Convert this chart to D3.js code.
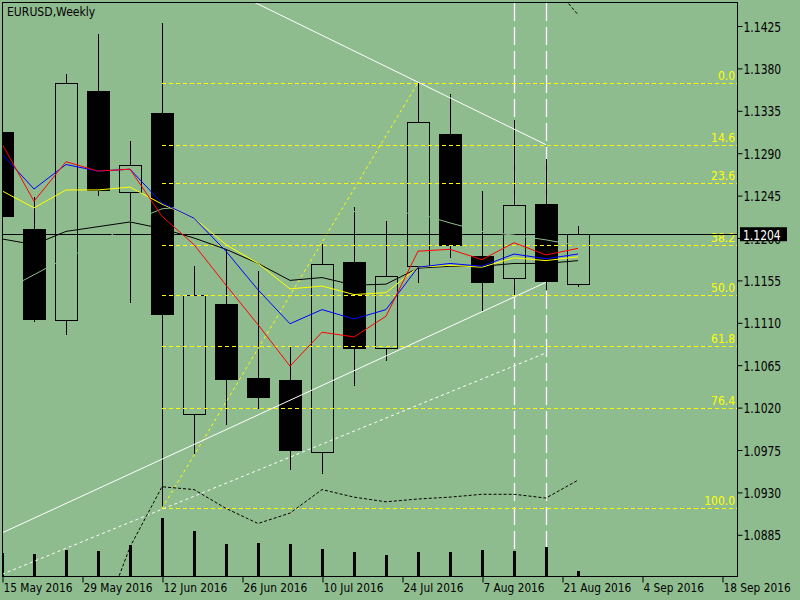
<!DOCTYPE html>
<html>
<head>
<meta charset="utf-8">
<script src="https://cdn.jsdelivr.net/npm/d3@7"></script>
<style>
  body { margin: 0; background: #8fbc8f; }
  svg { display: block; }
  text { font-family: "DejaVu Sans Condensed", "DejaVu Sans", sans-serif; font-stretch: condensed; font-size: 12px; }
</style>
</head>
<body>
<div id="chart"></div>
<script>
// weekly EURUSD bars
const title = "EURUSD,Weekly";
const opens  = [1.1313, 1.1210, 1.1113, 1.1356, 1.1249, 1.1333, 1.1013, 1.1130, 1.1051, 1.1049, 1.0973, 1.1174, 1.1083, 1.1170, 1.1310, 1.1181, 1.1158, 1.1236, 1.1151];
const highs  = [1.1330, 1.1244, 1.1374, 1.1417, 1.1303, 1.1428, 1.1170, 1.1187, 1.1165, 1.1085, 1.1194, 1.1233, 1.1218, 1.1365, 1.1353, 1.1250, 1.1325, 1.1284, 1.1213];
const lows   = [1.1200, 1.1111, 1.1097, 1.1245, 1.1131, 1.0913, 1.0971, 1.1002, 1.1018, 1.0954, 1.0950, 1.1043, 1.1069, 1.1152, 1.1179, 1.1122, 1.1137, 1.1145, 1.1148];
const closes = [1.1223, 1.1114, 1.1365, 1.1251, 1.1278, 1.1119, 1.1140, 1.1050, 1.1031, 1.0975, 1.1172, 1.1083, 1.1160, 1.1323, 1.1193, 1.1153, 1.1235, 1.1154, 1.1204];
const volumes = [470, 440, 520, 500, 620, 1154, 900, 640, 660, 640, 540, 480, 420, 480, 480, 520, 500, 580, 100];

// indicator lines (one value per bar)
const maRed    = [1.1300, 1.1239, 1.1281, 1.1271, 1.1273, 1.1223, 1.1193, 1.1150, 1.1108, 1.1064, 1.1100, 1.1095, 1.1117, 1.1186, 1.1188, 1.1177, 1.1195, 1.1182, 1.1189];
const maBlue   = [1.1289, 1.1252, 1.1278, 1.1271, 1.1273, 1.1237, 1.1221, 1.1186, 1.1145, 1.1109, 1.1124, 1.1114, 1.1124, 1.1169, 1.1173, 1.1170, 1.1183, 1.1178, 1.1183];
const maYellow = [1.1250, 1.1232, 1.1251, 1.1251, 1.1254, 1.1236, 1.1221, 1.1193, 1.1173, 1.1146, 1.1149, 1.1140, 1.1142, 1.1169, 1.1171, 1.1169, 1.1179, 1.1176, 1.1180];
const maBlack  = [1.1199, 1.1193, 1.1207, 1.1212, 1.1217, 1.1210, 1.1200, 1.1188, 1.1173, 1.1155, 1.1158, 1.1150, 1.1151, 1.1168, 1.1170, 1.1170, 1.1173, 1.1173, 1.1176];
const maHidden = [1.1143, 1.1161, 1.1179, 1.1193, 1.1217, 1.1231, 1.1234, 1.1235, 1.1234, 1.1232, 1.1230, 1.1228, 1.1227, 1.1226, 1.1216, 1.1207, 1.1203, 1.1198, 1.1192];
const bandLower = [null, null, null, 1.0782, 1.0872, 1.0936, 1.0933, 1.0913, 1.0897, 1.0908, 1.0933, 1.0925, 1.0920, 1.0923, 1.0925, 1.0928, 1.0928, 1.0924, 1.0943];
const bandUpper = [null, null, null, null, null, null, null, null, null, null, null, null, null, null, null, null, null, 1.1477, 1.1437];

const lastPrice = 1.1204;
const priceTicks = [1.1425, 1.1380, 1.1335, 1.1290, 1.1245, 1.1200, 1.1155, 1.1110, 1.1065, 1.1020, 1.0975, 1.0930, 1.0885];
const dateLabels = ["15 May 2016", "29 May 2016", "12 Jun 2016", "26 Jun 2016", "10 Jul 2016", "24 Jul 2016", "7 Aug 2016", "21 Aug 2016", "4 Sep 2016", "18 Sep 2016"];
const dateLabelBars = [0, 2.5, 5, 7.5, 10, 12.5, 15, 17.5, 20, 22.5];

// fibonacci from the low bar to the high bar
const fibLevels = [0.0, 14.6, 23.6, 38.2, 50.0, 61.8, 76.4, 100.0];
const fibLowBar = 5, fibHighBar = 13;

// trend lines (bar index, price)
const trendDown    = [{ i: 0, p: 1.1581 }, { i: 17, p: 1.1299 }];
const trendUp      = [{ i: 0, p: 1.0887 }, { i: 17, p: 1.1153 }];
const trendUpDash  = [{ i: 0, p: 1.0843 }, { i: 17, p: 1.1078 }];
const markerBars = [16, 17];

const bg = "#8fbc8f";
const plot = { left: 2, top: 2, right: 737, bottom: 576 };

// the terminal font is tall and narrow: draw big, then squeeze the width
function squeeze(sel, k) {
  sel.each(function () {
    const w = this.getComputedTextLength();
    d3.select(this).attr("textLength", w * k).attr("lengthAdjust", "spacingAndGlyphs");
  });
}

const svg = d3.select("#chart").append("svg")
  .attr("width", 800).attr("height", 600);

svg.append("rect").attr("width", 800).attr("height", 600).attr("fill", bg);

// set the ranges
const x = d3.scaleLinear().domain([0, 23]).range([2, 738]);
const y = d3.scaleLinear().domain([1.0885, 1.1425]).range([534.8, 26]);
const yVol = d3.scaleLinear().domain([0, 1000]).range([576, 526]);

const bars = opens.map((o, i) => ({ i, o, h: highs[i], l: lows[i], c: closes[i], v: volumes[i] }));
const px = i => Math.round(x(i)) + 0.5;

svg.append("clipPath").attr("id", "plotClip")
  .append("rect")
  .attr("x", plot.left).attr("y", plot.top)
  .attr("width", plot.right - plot.left).attr("height", plot.bottom - plot.top);

const g = svg.append("g").attr("clip-path", "url(#plotClip)");

// vertical marker lines sit behind the bars
g.selectAll(".marker").data(markerBars).enter().append("line")
  .attr("x1", d => px(d)).attr("x2", d => px(d))
  .attr("y1", plot.top + 1).attr("y2", plot.bottom)
  .attr("stroke", "#fff").attr("stroke-width", 1.3)
  .attr("stroke-dasharray", "18,6");

// volume
g.selectAll(".vol").data(bars).enter().append("rect")
  .attr("x", d => Math.round(x(d.i)) - 1)
  .attr("width", 3)
  .attr("y", d => yVol(d.v))
  .attr("height", d => yVol(0) - yVol(d.v))
  .attr("fill", "#000")
  .attr("shape-rendering", "crispEdges");

// candles
const candle = g.selectAll(".candle").data(bars).enter().append("g")
  .attr("shape-rendering", "crispEdges");
candle.append("line")
  .attr("x1", d => px(d.i)).attr("x2", d => px(d.i))
  .attr("y1", d => y(d.h)).attr("y2", d => y(d.l))
  .attr("stroke", "#000");
candle.append("rect")
  .attr("x", d => Math.round(x(d.i)) - 11 + 0.5)
  .attr("width", 22)
  .attr("y", d => Math.round(y(Math.max(d.o, d.c))) + 0.5)
  .attr("height", d => Math.max(1, Math.round(y(Math.min(d.o, d.c))) - Math.round(y(Math.max(d.o, d.c)))))
  .attr("fill", d => d.c < d.o ? "#000" : bg)
  .attr("stroke", "#000");

// fibonacci levels
const fibHigh = highs[fibHighBar], fibLow = lows[fibLowBar];
const fibPrice = lv => fibHigh - lv / 100 * (fibHigh - fibLow);
g.selectAll(".fib").data(fibLevels).enter().append("line")
  .attr("x1", x(fibLowBar)).attr("x2", plot.right)
  .attr("y1", d => Math.round(y(fibPrice(d))) + 0.5)
  .attr("y2", d => Math.round(y(fibPrice(d))) + 0.5)
  .attr("stroke", "#ffff00").attr("stroke-dasharray", "4,3");
g.selectAll(".fibLabel").data(fibLevels).enter().append("text")
  .attr("x", plot.right - 2)
  .attr("y", d => y(fibPrice(d)) - 3)
  .attr("text-anchor", "end")
  .attr("fill", "#ffff00")
  .style("font-size", "13px")
  .text(d => d.toFixed(1))
  .call(squeeze, 0.92);
g.append("line")
  .attr("x1", x(fibLowBar)).attr("y1", y(fibLow))
  .attr("x2", x(fibHighBar)).attr("y2", y(fibHigh))
  .attr("stroke", "#ffff00").attr("stroke-dasharray", "3,3");

// trend lines
const trend = d3.line().x(d => x(d.i)).y(d => y(d.p));
g.append("path").attr("d", trend(trendDown)).attr("fill", "none").attr("stroke", "#fff");
g.append("path").attr("d", trend(trendUp)).attr("fill", "none").attr("stroke", "#fff");
g.append("path").attr("d", trend(trendUpDash)).attr("fill", "none").attr("stroke", "#fff").attr("stroke-dasharray", "3,3");

// last price line
g.append("line")
  .attr("x1", plot.left).attr("x2", plot.right)
  .attr("y1", Math.round(y(lastPrice)) + 0.5).attr("y2", Math.round(y(lastPrice)) + 0.5)
  .attr("stroke", "#000");

// indicator lines
const ma = d3.line().defined(d => d != null).x((d, i) => x(i)).y(d => y(d));
g.append("path").attr("d", ma(maHidden)).attr("fill", "none").attr("stroke", bg);
g.append("path").attr("d", ma(bandLower)).attr("fill", "none").attr("stroke", "#000").attr("stroke-dasharray", "3,2");
g.append("path").attr("d", ma(bandUpper)).attr("fill", "none").attr("stroke", "#000").attr("stroke-dasharray", "3,2");
g.append("path").attr("d", ma(maBlack)).attr("fill", "none").attr("stroke", "#000");
g.append("path").attr("d", ma(maYellow)).attr("fill", "none").attr("stroke", "#ffff00");
g.append("path").attr("d", ma(maBlue)).attr("fill", "none").attr("stroke", "#0000ff");
g.append("path").attr("d", ma(maRed)).attr("fill", "none").attr("stroke", "#ff0000");

// frame
svg.append("rect")
  .attr("x", plot.left + 0.5).attr("y", plot.top + 0.5)
  .attr("width", plot.right - plot.left).attr("height", plot.bottom - plot.top)
  .attr("fill", "none").attr("stroke", "#000")
  .attr("shape-rendering", "crispEdges");

// price axis
const yAxis = svg.append("g")
  .attr("transform", "translate(" + (plot.right + 0.5) + ",0)")
  .call(d3.axisRight(y).tickValues(priceTicks).tickFormat(d3.format(".4f")).tickSize(5).tickPadding(1));
yAxis.select(".domain").remove();
yAxis.selectAll("text").attr("fill", "#000").attr("dy", "0.36em")
  .style("font-size", "14.4px").style("font-family", null)
  .call(squeeze, 0.833);

// time axis
const xAxis = svg.append("g")
  .attr("transform", "translate(0," + (plot.bottom + 0.5) + ")")
  .call(d3.axisBottom(x).tickValues(dateLabelBars).tickFormat((d, i) => dateLabels[i]).tickSize(6).tickPadding(0));
xAxis.select(".domain").remove();
xAxis.selectAll("line").attr("transform", "translate(0.5,0)");
xAxis.selectAll("text").attr("text-anchor", "start").attr("x", 1).attr("fill", "#000")
  .style("font-size", "12.8px").style("font-family", null)
  .call(squeeze, 0.92);

// current price label
const yp = y(lastPrice);
svg.append("rect")
  .attr("x", 740).attr("y", yp - 7).attr("width", 47).attr("height", 14)
  .attr("fill", "#000");
svg.append("text")
  .attr("x", 743).attr("y", yp + 5.3)
  .attr("fill", "#fff")
  .style("font-size", "14.4px")
  .text(lastPrice.toFixed(4))
  .call(squeeze, 0.833);

svg.append("text")
  .attr("x", 7).attr("y", 16)
  .attr("fill", "#000")
  .style("font-size", "13px")
  .text(title)
  .call(squeeze, 0.93);
</script>
</body>
</html>
